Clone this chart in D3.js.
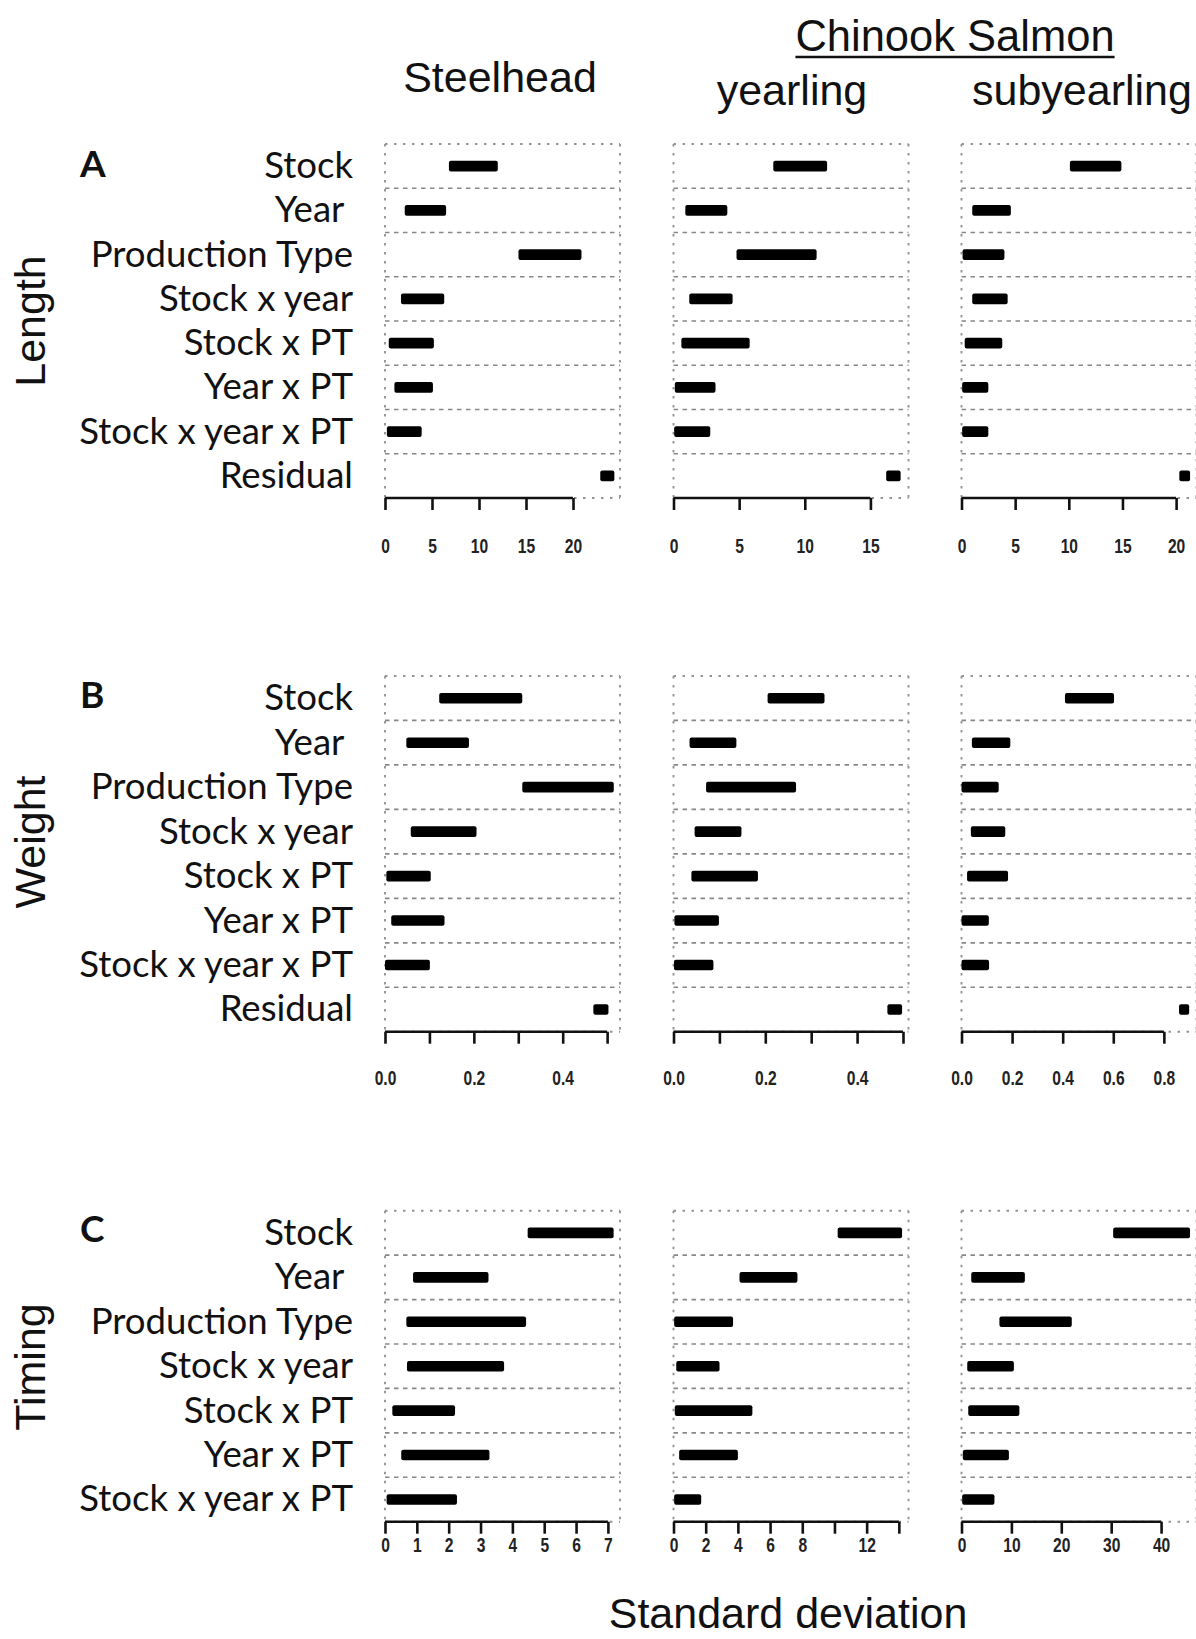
<!DOCTYPE html>
<html>
<head>
<meta charset="utf-8">
<script src="https://cdn.jsdelivr.net/npm/d3@7/dist/d3.min.js"></script>
<style>
  html, body { margin: 0; padding: 0; background: #fff; }
  svg { display: block; }
  .rowlab { white-space: pre; }
</style>
</head>
<body>
<script>
// Variance components: intervals of the standard deviation for each source of variation
const groups = ["Steelhead", "yearling", "subyearling"];
const traits = ["Length", "Weight", "Timing"];
const panelLetters = ["A", "B", "C"];
const rowLabels = ["Stock", "Year ", "Production Type", "Stock x year", "Stock x PT",
                   "Year x PT", "Stock x year x PT", "Residual"];

// [low, high] per row (row order as in rowLabels)
const lengthSteelhead   = [[6.8, 12.0], [2.1, 6.5], [14.2, 20.9], [1.7, 6.3], [0.4, 5.2], [1.0, 5.1], [0.2, 3.9], [22.9, 24.4]];
const lengthYearling    = [[7.6, 11.7], [0.9, 4.1], [4.8, 10.9], [1.2, 4.5], [0.6, 5.8], [0.1, 3.2], [0.05, 2.8], [16.2, 17.3]];
const lengthSubyearling = [[10.1, 14.9], [1.0, 4.6], [0.1, 4.0], [1.0, 4.3], [0.3, 3.8], [0.06, 2.5], [0.06, 2.5], [20.3, 21.3]];

const weightSteelhead   = [[0.122, 0.309], [0.048, 0.189], [0.309, 0.515], [0.058, 0.206], [0.003, 0.103], [0.014, 0.134], [0.0, 0.101], [0.469, 0.503]];
const weightYearling    = [[0.205, 0.329], [0.035, 0.137], [0.071, 0.267], [0.046, 0.148], [0.039, 0.184], [0.002, 0.099], [0.001, 0.087], [0.466, 0.498]];
const weightSubyearling = [[0.409, 0.603], [0.041, 0.193], [0.0, 0.147], [0.037, 0.173], [0.022, 0.184], [0.0, 0.108], [0.0, 0.109], [0.86, 0.90]];

const timingSteelhead   = [[4.48, 7.18], [0.88, 3.25], [0.67, 4.43], [0.69, 3.74], [0.23, 2.2], [0.51, 3.28], [0.05, 2.26]];
const timingYearling    = [[10.2, 14.2], [4.1, 7.7], [0.04, 3.7], [0.17, 2.86], [0.08, 4.9], [0.35, 4.0], [0.04, 1.72]];
const timingSubyearling = [[30.4, 45.8], [1.95, 12.7], [7.6, 22.1], [1.15, 10.5], [1.35, 11.6], [0.27, 9.5], [0.13, 6.6]];

// Upper end of each x axis (Steelhead, yearling, subyearling)
const lengthAxisMax = [25, 17.9, 21.9];
const weightAxisMax = [0.529, 0.512, 0.929];
const timingAxisMax = [7.38, 14.6, 47.1];

// Tick positions and their labels
const lengthTicks = [[0, 5, 10, 15, 20], [0, 5, 10, 15], [0, 5, 10, 15, 20]];
const lengthTickLabels = [["0", "5", "10", "15", "20"], ["0", "5", "10", "15"], ["0", "5", "10", "15", "20"]];
const weightTicks = [[0, 0.1, 0.2, 0.3, 0.4, 0.5], [0, 0.1, 0.2, 0.3, 0.4, 0.5], [0, 0.2, 0.4, 0.6, 0.8]];
const weightTickLabels = [["0.0", "", "0.2", "", "0.4", ""], ["0.0", "", "0.2", "", "0.4", ""], ["0.0", "0.2", "0.4", "0.6", "0.8"]];
const timingTicks = [[0, 1, 2, 3, 4, 5, 6, 7], [0, 2, 4, 6, 8, 10, 12, 14], [0, 10, 20, 30, 40]];
const timingTickLabels = [["0", "1", "2", "3", "4", "5", "6", "7"], ["0", "2", "4", "6", "8", "", "12", ""], ["0", "10", "20", "30", "40"]];

const seriesByTrait = [
  [lengthSteelhead, lengthYearling, lengthSubyearling],
  [weightSteelhead, weightYearling, weightSubyearling],
  [timingSteelhead, timingYearling, timingSubyearling]
];
const axisMaxByTrait = [lengthAxisMax, weightAxisMax, timingAxisMax];
const ticksByTrait = [lengthTicks, weightTicks, timingTicks];
const tickLabelsByTrait = [lengthTickLabels, weightTickLabels, timingTickLabels];

// Layout
const W = 1196, H = 1639;
const panelLeft = [385, 673.5, 961.5];
const panelWidth = 235;
const panelTop = [144, 676, 1210.7];
const panelBottom = [498, 1031.7, 1521.7];
const tickLabelGap = [55, 53, 30];
const letterY = [177, 708, 1242];
const traitY = [321, 842, 1367];
const labelRight = 353;

const sans = "'Liberation Sans', Arial, Helvetica, sans-serif";
const humanist = "Lato, 'Open Sans', 'Noto Sans', sans-serif";

const svg = d3.select("body").append("svg")
  .attr("width", W).attr("height", H)
  .attr("viewBox", `0 0 ${W} ${H}`);

// Column headings
const colCenter = [500, 792, 1082];
groups.forEach((g, c) => {
  svg.append("text")
    .attr("x", colCenter[c]).attr("y", c === 0 ? 92 : 105)
    .attr("text-anchor", "middle")
    .attr("font-family", sans).attr("font-size", 43)
    .attr("fill", "#111")
    .text(g);
});
const chinook = svg.append("text")
  .attr("x", 955).attr("y", 51)
  .attr("text-anchor", "middle")
  .attr("font-family", sans).attr("font-size", 43.5)
  .attr("fill", "#111")
  .text("Chinook Salmon");
const cb = chinook.node().getBBox();
svg.append("line")
  .attr("x1", cb.x).attr("x2", cb.x + cb.width)
  .attr("y1", 57).attr("y2", 57)
  .attr("stroke", "#111").attr("stroke-width", 2.5);

traits.forEach((trait, r) => {
  const series = seriesByTrait[r];
  const nRows = series[0].length;
  const y = d3.scaleBand().domain(d3.range(nRows)).range([panelTop[r], panelBottom[r]]);
  const rowH = y.bandwidth();

  // Panel letter
  svg.append("text")
    .attr("x", 80).attr("y", letterY[r])
    .attr("font-family", humanist).attr("font-weight", 700).attr("font-size", 37)
    .attr("fill", "#111")
    .text(panelLetters[r]);

  // Trait name, rotated
  svg.append("text")
    .attr("transform", `translate(45,${traitY[r]}) rotate(-90)`)
    .attr("text-anchor", "middle")
    .attr("font-family", sans).attr("font-size", 43)
    .attr("fill", "#111")
    .text(trait);

  // Row labels
  svg.append("g").selectAll("text")
    .data(rowLabels.slice(0, nRows))
    .join("text")
    .attr("class", "rowlab")
    .attr("x", labelRight)
    .attr("y", (d, i) => y(i) + rowH / 2 + 12)
    .attr("text-anchor", "end")
    .attr("font-family", humanist).attr("font-size", 36.6)
    .attr("fill", "#111")
    .text(d => d);

  groups.forEach((g, c) => {
    const x = d3.scaleLinear()
      .domain([0, axisMaxByTrait[r][c]])
      .range([panelLeft[c], panelLeft[c] + panelWidth]);
    const panel = svg.append("g");
    const x0 = x.range()[0], x1 = x.range()[1];
    const top = panelTop[r], bottom = panelBottom[r];

    // Dotted frame
    const frame = panel.append("g")
      .attr("fill", "none").attr("stroke", "#949494").attr("stroke-width", 1.9)
      .attr("stroke-dasharray", "2.5,6.5");
    frame.append("line").attr("x1", x0).attr("x2", x1).attr("y1", top).attr("y2", top);
    frame.append("line").attr("x1", x0).attr("x2", x1).attr("y1", bottom).attr("y2", bottom);
    frame.append("line").attr("x1", x0).attr("x2", x0).attr("y1", top).attr("y2", bottom);
    frame.append("line").attr("x1", x1).attr("x2", x1).attr("y1", top).attr("y2", bottom);

    // Row separators
    panel.append("g").selectAll("line")
      .data(d3.range(1, nRows))
      .join("line")
      .attr("x1", x0).attr("x2", x1)
      .attr("y1", i => y(i)).attr("y2", i => y(i))
      .attr("stroke", "#888").attr("stroke-width", 1.7)
      .attr("stroke-dasharray", "4.5,4.5");

    // Interval bars
    panel.append("g").selectAll("rect")
      .data(series[c])
      .join("rect")
      .attr("x", d => x(d[0]))
      .attr("width", d => x(d[1]) - x(d[0]))
      .attr("y", (d, i) => y(i) + rowH / 2 - 5.3)
      .attr("height", 10.6)
      .attr("rx", 2)
      .attr("fill", "#000");

    // Axis
    const ticks = ticksByTrait[r][c];
    const labels = tickLabelsByTrait[r][c];
    const axis = panel.append("g")
      .attr("transform", `translate(0,${bottom})`)
      .call(d3.axisBottom(x)
        .tickValues(ticks)
        .tickFormat((d, i) => labels[i])
        .tickSizeInner(12).tickSizeOuter(0));
    axis.select(".domain").remove();
    axis.append("line")
      .attr("x1", x(ticks[0])).attr("x2", x(ticks[ticks.length - 1]))
      .attr("y1", 0).attr("y2", 0)
      .attr("stroke", "#111").attr("stroke-width", 2.6);
    axis.selectAll(".tick line").attr("stroke", "#111").attr("stroke-width", 2.6);
    // condensed tick labels
    axis.selectAll(".tick text")
      .attr("y", tickLabelGap[r]).attr("dy", 0)
      .attr("transform", "scale(0.8,1)")
      .attr("font-family", sans).attr("font-weight", 700).attr("font-size", 19.5)
      .attr("fill", "#222");
  });
});

// Shared x axis title
svg.append("text")
  .attr("x", 788).attr("y", 1628)
  .attr("text-anchor", "middle")
  .attr("font-family", sans).attr("font-size", 43)
  .attr("fill", "#111")
  .text("Standard deviation");
</script>
</body>
</html>
